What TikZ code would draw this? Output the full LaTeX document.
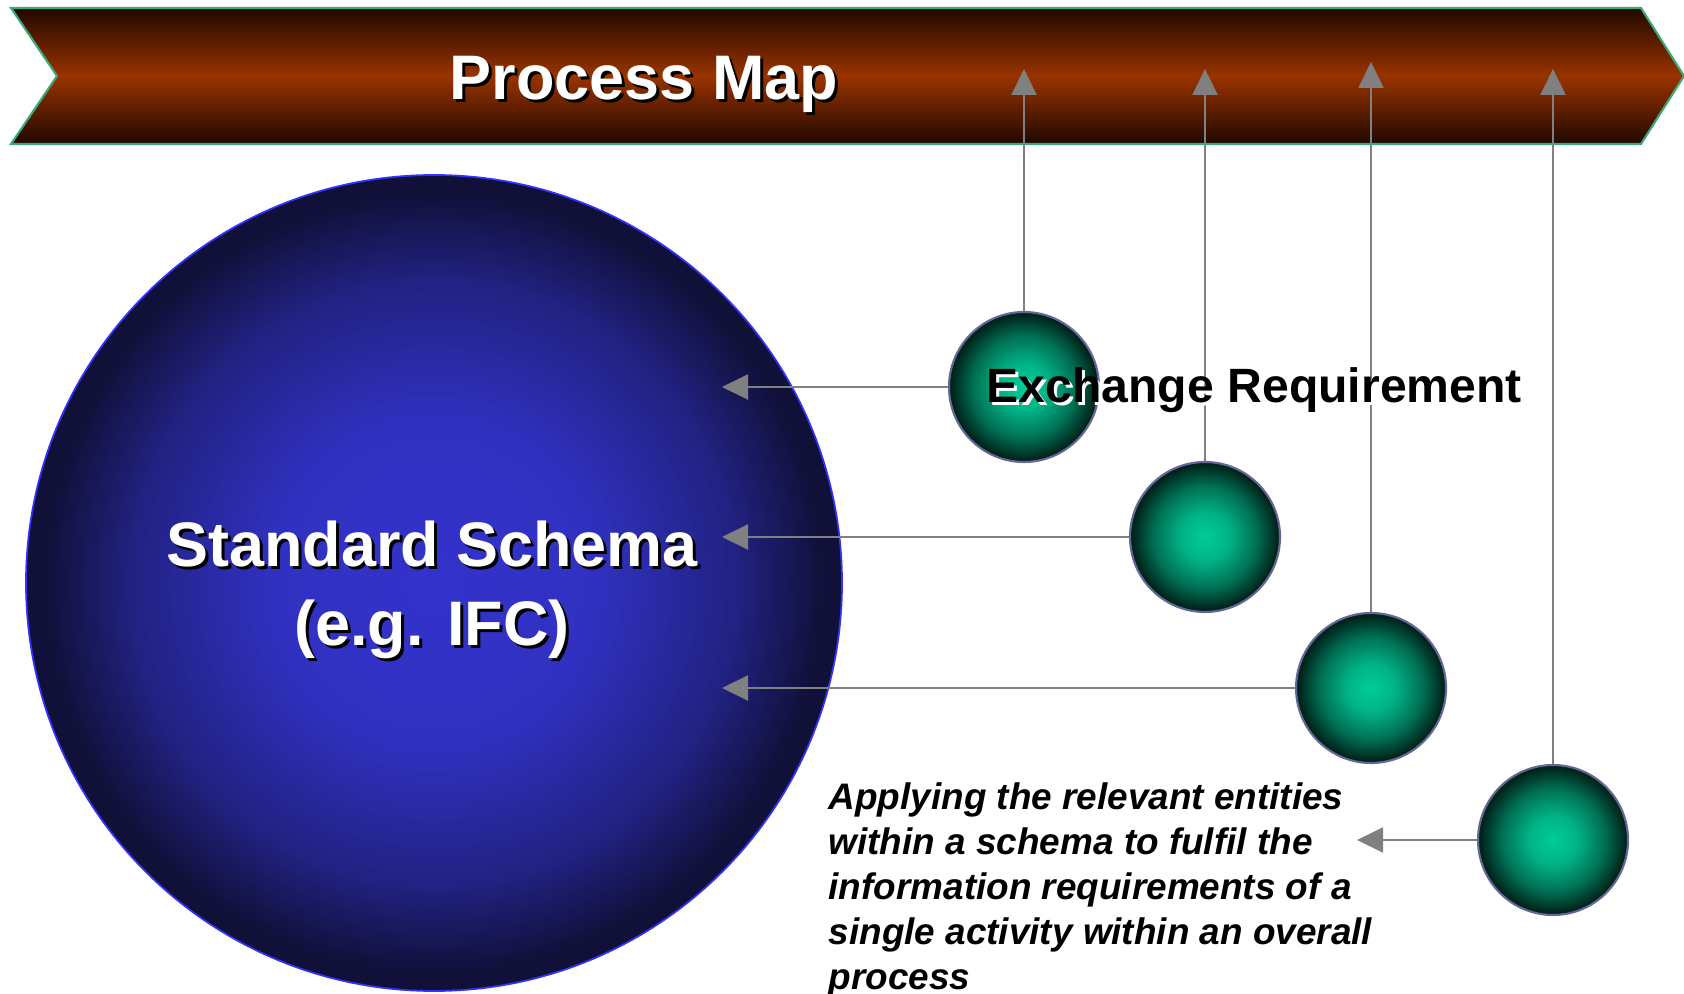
\documentclass[tikz,border=0pt]{standalone}
\usepackage{fontspec}
\setmainfont{Liberation Sans}
\definecolor{bannerdark}{RGB}{32, 8, 0}
\definecolor{bannermid}{RGB}{153, 51, 0}
\definecolor{bannerline}{RGB}{60, 170, 120}
\definecolor{schemacore}{RGB}{51, 51, 204}
\definecolor{schemaedge}{RGB}{16, 16, 56}
\definecolor{schemaline}{RGB}{51, 51, 255}
\definecolor{reqcore}{RGB}{0, 204, 153}
\definecolor{reqedge}{RGB}{0, 38, 28}
\definecolor{reqline}{RGB}{102, 102, 153}
\definecolor{linkgray}{RGB}{128, 128, 128}
\usetikzlibrary{shapes, arrows.meta, positioning, calc}

\pgfdeclareradialshading{schemaglow}{\pgfpointorigin}{color(0bp)=(schemacore); color(10bp)=(schemacore!92!schemaedge);
  color(18.5bp)=(schemacore!50!schemaedge); color(24bp)=(schemaedge); color(50bp)=(schemaedge)}
\pgfdeclareradialshading{reqglow}{\pgfpointorigin}{color(0bp)=(reqcore); color(8bp)=(reqcore!85!reqedge);
  color(17bp)=(reqcore!45!reqedge); color(24bp)=(reqedge); color(50bp)=(reqedge)}

\tikzset{
  reqball/.style={circle, minimum size=1.5cm, inner sep=0pt, draw=reqline, line width=0.6pt, shading=reqglow},
  flowarrow/.style={linkgray, line width=0.6pt, -{Triangle[length=0.26cm, width=0.25cm]}},
  bigtext/.style={font=\fontsize{17.9}{22.2}\selectfont\bfseries, inner sep=0pt, align=center},
  reqtext/.style={font=\fontsize{13.7}{16}\selectfont\bfseries, inner sep=0pt},
  notetext/.style={font=\fontsize{10.5}{12.8}\selectfont\bfseries\itshape, inner sep=0pt, align=left}
}

\begin{document}
\begin{tikzpicture}
  \useasboundingbox (0, 0) rectangle (16.84, 9.93);

  % Process map banner
  \draw[bannerline, line width=0.6pt, top color=bannerdark, bottom color=bannerdark, middle color=bannermid]
    (0.11, 9.85) -- (16.41, 9.85) -- (16.84, 9.17) -- (16.41, 8.49) -- (0.11, 8.49) -- (0.57, 9.17) -- cycle;
  \node[bigtext, black, anchor=base] (mapshadow) at (6.47, 8.90) {Process Map};
  \node[bigtext, white, anchor=base] (maptitle) at (6.44, 8.93) {Process Map};

  % Standard schema
  \node[circle, minimum size=8.16cm, inner sep=0pt, draw=schemaline, line width=0.5pt,
    shading=schemaglow] (schema) at (4.34, 4.10) {};
  \node[bigtext, black, anchor=base] (schemashadow) at (4.35, 3.45) {Standard Schema\\(e.g. IFC)};
  \node[bigtext, white, anchor=base] (schematitle) at (4.32, 3.48) {Standard Schema\\(e.g. IFC)};

  % Exchange requirements
  \node[reqball] (req1) at (10.24, 6.06) {};
  \node[reqball] (req2) at (12.05, 4.56) {};
  \node[reqball] (req3) at (13.71, 3.05) {};
  \node[reqball] (req4) at (15.53, 1.53) {};

  \coordinate (maptip1) at (10.24, 9.24);
  \coordinate (maptip2) at (12.05, 9.24);
  \coordinate (maptip3) at (13.71, 9.31);
  \coordinate (maptip4) at (15.53, 9.24);
  \draw[flowarrow] (req1.north) -- (maptip1);
  \draw[flowarrow] (req2.north) -- (maptip2);
  \draw[flowarrow] (req3.north) -- (maptip3);
  \draw[flowarrow] (req4.north) -- (maptip4);

  \coordinate (schematip1) at (7.22, 6.06);
  \coordinate (schematip2) at (7.22, 4.56);
  \coordinate (schematip3) at (7.22, 3.05);
  \coordinate (notetip) at (13.57, 1.53);
  \draw[flowarrow] (req1.west) -- (schematip1);
  \draw[flowarrow] (req2.west) -- (schematip2);
  \draw[flowarrow] (req3.west) -- (schematip3);
  \draw[flowarrow] (req4.west) -- (notetip);

  \node[reqtext, white, anchor=base west] (reqshadow) at (9.89, 5.87) {Exchange Requirement};
  \node[reqtext, black, anchor=base west] (reqlabel) at (9.86, 5.90) {Exchange Requirement};

  % Explanation
  \node[notetext, anchor=north west] (note) at (8.28, 2.11)
    {Applying the relevant entities\\within a schema to fulfil the\\information requirements of a\\single activity within an overall\\process};
\end{tikzpicture}
\end{document}
